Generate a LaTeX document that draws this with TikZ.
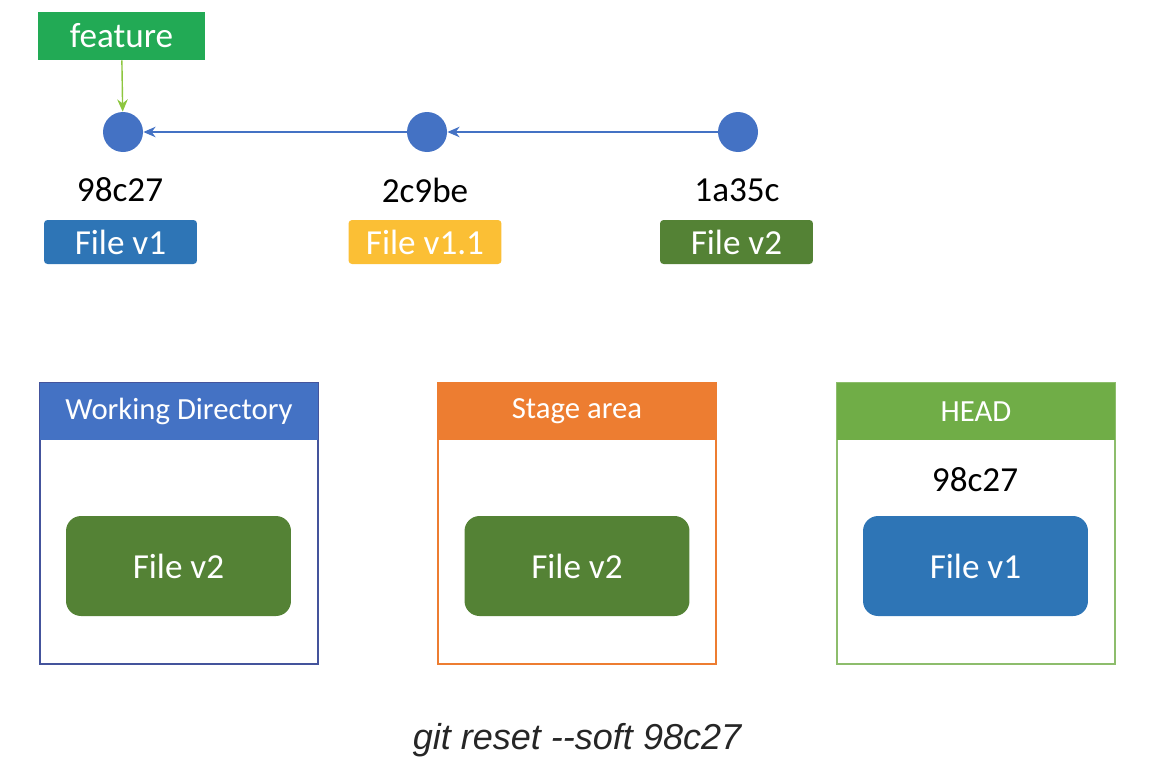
\documentclass[tikz,border=0pt]{standalone}
\usepackage{fontspec}
\setmainfont{Carlito}
\newfontfamily\capfont{Liberation Sans}
\usetikzlibrary{arrows.meta,positioning}

\definecolor{featgreen}{HTML}{22AA55}
\definecolor{arrowgreen}{HTML}{8DC63F}
\definecolor{commitblue}{HTML}{4472C4}
\definecolor{fileblue}{HTML}{2E75B6}
\definecolor{fileyellow}{HTML}{FBBF35}
\definecolor{filegreen}{HTML}{548235}
\definecolor{stageorange}{HTML}{ED7D31}
\definecolor{headgreen}{HTML}{70AD47}
\definecolor{wdline}{HTML}{44549C}

\tikzset{
  commit/.style={circle, fill=commitblue, minimum size=0.8cm, inner sep=0pt},
  hash/.style={font=\fontsize{20}{22}\selectfont},
  tag/.style={rounded corners=2pt, minimum width=3.06cm, minimum height=0.88cm,
    inner sep=0pt, text=white, font=\fontsize{20}{22}\selectfont},
  area/.style={draw, line width=0.8pt, minimum width=5.56cm, minimum height=5.62cm, inner sep=0pt},
  areahead/.style={minimum width=5.56cm, minimum height=1.14cm, inner sep=0pt,
    text=white, font=\fontsize{17.5}{19}\selectfont},
  filebox/.style={rounded corners=0.3cm, minimum width=4.5cm, minimum height=2cm,
    inner sep=0pt, text=white, font=\fontsize{20}{22}\selectfont},
  parent/.style={draw=commitblue, line width=0.8pt, -{Stealth[length=7pt,width=6pt]}}
}

\begin{document}
\begin{tikzpicture}[x=0.02cm, y=-0.02cm]
\useasboundingbox (0,0) rectangle (1152,778);

% commits
\node[commit] (c1) at (123,132) {};
\node[commit] (c2) at (427,132) {};
\node[commit] (c3) at (738,132) {};
\draw[parent] (c3) -- (c2);
\draw[parent] (c2) -- (c1);

\node[hash] (h1) at (120,190) {98c27};
\node[hash] (h2) at (425,190) {2c9be};
\node[hash] (h3) at (737,190) {1a35c};

\node[tag, fill=fileblue] (t1) at (120.5,242) {File v1};
\node[tag, fill=fileyellow] (t2) at (425,242) {File v1.1};
\node[tag, fill=filegreen] (t3) at (736.5,242) {File v2};

% branch
\node[fill=featgreen, text=white, minimum width=3.34cm, minimum height=0.96cm, inner sep=0pt,
  font=\fontsize{20}{22}\selectfont] (feature) at (121.5,36) {feature};
\draw[draw=arrowgreen, line width=0.8pt, -{Stealth[length=7pt,width=6pt]}] (feature) -- (c1);

% the three areas
\node[area, draw=wdline] (wd) at (179,523.5) {};
\node[areahead, fill=commitblue, anchor=north] (wdh) at (wd.north) {Working Directory};
\node[filebox, fill=filegreen] (wdf) at (178.5,566) {File v2};

\node[area, draw=stageorange] (st) at (577,523.5) {};
\node[areahead, fill=stageorange, anchor=north] (sth) at (st.north) {Stage area};
\node[filebox, fill=filegreen] (stf) at (577,566) {File v2};

\node[area, draw=headgreen!80] (hd) at (976,523.5) {};
\node[areahead, fill=headgreen, anchor=north] (hdh) at (hd.north) {HEAD};
\node[hash] (hdhash) at (975,480) {98c27};
\node[filebox, fill=fileblue] (hdf) at (975.5,566) {File v1};

\node[font=\capfont\itshape\fontsize{20.5}{24}\selectfont, text=black!85] (cmd) at (577,740) {git reset -{}-soft 98c27};
\end{tikzpicture}
\end{document}
